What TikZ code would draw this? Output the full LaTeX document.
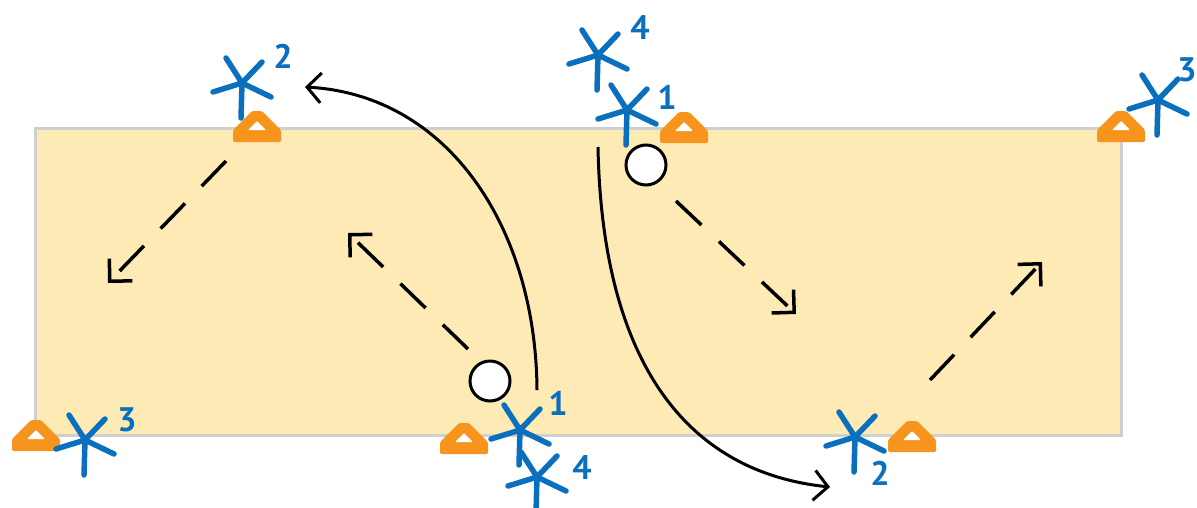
\documentclass[tikz,border=0pt]{standalone}
\usepackage{fontspec}
\setmainfont{PT Sans}
\usetikzlibrary{arrows.meta}
\definecolor{fieldfill}{HTML}{FDEAB4}
\definecolor{fieldedge}{HTML}{CFCFCF}
\definecolor{conecol}{HTML}{F7941D}
\definecolor{playercol}{HTML}{0A6FBD}
\tikzset{
  field/.style={fill=fieldfill, draw=fieldedge, line width=3pt},
  ball/.style={circle, draw=black, fill=white, line width=3pt, minimum size=40pt, inner sep=0pt},
  num/.style={text=playercol, font=\fontsize{34}{34}\selectfont\bfseries, inner sep=0pt},
  passarrow/.style={draw, line width=3.5pt, dash pattern=on 35pt off 24pt, -{Straight Barb[length=16pt,width=32pt]}},
  runarrow/.style={draw, line width=3pt, -{Straight Barb[length=14pt,width=30pt]}},
  cone/.pic={
    \fill[conecol, rounded corners=1.5pt] (-24,0) -- (-24,-12) -- (-5,-31) -- (5,-31) -- (24,-12) -- (24,0) -- cycle;
    \fill[white, rounded corners=1pt] (-9,-12) -- (0,-21) -- (9,-12) -- cycle;
  },
  player/.pic={
    \draw[playercol, line width=5.5pt, line cap=round]
      (-16,-25) -- (0,0) -- (20,-21)
      (-29,9) -- (0,0) -- (29,14)
      (0,0) -- (-1,35);
  }
}
\begin{document}
\begin{tikzpicture}[x=1pt, y=-1pt]
\useasboundingbox (0,0) rectangle (1197,507);
% field
\draw[field] (35,128) rectangle (1121,435);
% cones
\pic at (257,142) {cone};
\pic at (684,143) {cone};
\pic at (1121,142) {cone};
\pic at (36,451) {cone};
\pic at (464,454) {cone};
\pic at (912,452) {cone};
% players
\pic at (242,83) {player};
\pic at (598,55) {player};
\pic at (627,110) {player};
\pic at (1158,100) {player};
\pic at (85,440) {player};
\pic at (520,430) {player};
\pic at (537,477) {player};
\pic at (855,437) {player};
% labels
\node[num] (l2a) at (283,56) {2};
\node[num] (l4a) at (640,28) {4};
\node[num] (l1a) at (667,97) {1};
\node[num] (l3a) at (1187,70) {3};
\node[num] (l3b) at (127,420) {3};
\node[num] (l1b) at (558,403) {1};
\node[num] (l4b) at (582,468) {4};
\node[num] (l2b) at (880,473) {2};
% balls
\node[ball] (ballA) at (490,381) {};
\node[ball] (ballB) at (646,165) {};
% arrow end points
\coordinate (p1s) at (226,161);
\coordinate (p1e) at (108,283);
\coordinate (p2s) at (468,349);
\coordinate (p2e) at (348,233);
\coordinate (p3s) at (676,201);
\coordinate (p3e) at (796,314);
\coordinate (p4s) at (930,380);
\coordinate (p4e) at (1042,262);
\coordinate (r1s) at (537,390);
\coordinate (r1e) at (305,87);
\coordinate (r2s) at (598,147);
\coordinate (r2e) at (830,487);
% passes
\draw[passarrow] (p1s) -- (p1e);
\draw[passarrow] (p2s) -- (p2e);
\draw[passarrow] (p3s) -- (p3e);
\draw[passarrow] (p4s) -- (p4e);
% runs
\draw[runarrow] (r1s) .. controls (536,230) and (450,95) .. (r1e);
\draw[runarrow] (r2s) .. controls (602,360) and (685,472) .. (r2e);
\end{tikzpicture}
\end{document}
